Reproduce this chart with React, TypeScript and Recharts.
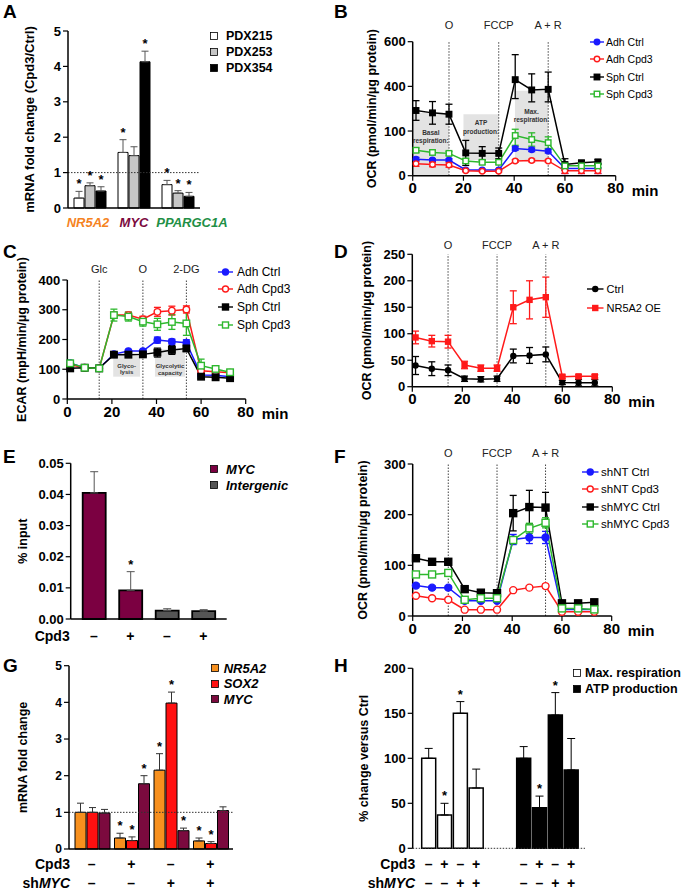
import React from "react";
import {
  LineChart,
  Line,
  BarChart,
  Bar,
  Cell,
  XAxis,
  YAxis,
  ErrorBar,
  ReferenceLine,
  ReferenceArea,
  LabelList,
  Legend,
} from "recharts";

const FONT = '"Liberation Sans", Arial, Helvetica, sans-serif';
const BLUE = "#1a1aff";
const RED = "#ff1a1a";
const GREEN = "#2db82d";
const BLACK = "#000000";

// Seahorse measurement times (min), shared by B, C, D, F
const minutes = [1.3, 7.8, 14.3, 20.9, 27.4, 33.9, 40.4, 46.9, 53.4, 60, 66.5, 73];
const timeTicks = [0, 20, 40, 60, 80];
const ocrInjections = ["O", "FCCP", "A + R"];
const ecarInjections = ["Glc", "O", "2-DG"];

// A - mRNA fold change (Cpd3/Ctrl)
const genesA = ["NR5A2", "MYC", "PPARGC1A"];
const geneColorsA = ["#f5831f", "#7b0a3e", "#1f8f46"];
const geneShiftA = [-2, 0, 14];
const pdx215 = [0.28, 1.57, 0.66];
const pdx215Err = [0.19, 0.36, 0.12];
const pdx215Sig = [true, true, true];
const pdx253 = [0.63, 1.48, 0.42];
const pdx253Err = [0.08, 0.25, 0.07];
const pdx253Sig = [true, false, true];
const pdx354 = [0.48, 4.13, 0.33];
const pdx354Err = [0.12, 0.3, 0.11];
const pdx354Sig = [true, true, true];

// B - OCR, segmented axis
const ocrTicksB = [0, 100, 400, 600];
const adhCtrlB = [37, 35, 35, 13, 13, 13, 61, 58, 55, 16, 16, 16];
const adhCtrlBErr = [4, 3, 3, 2, 2, 2, 4, 4, 4, 11, 11, 11];
const adhCpd3B = [27, 25, 24, 11, 10, 10, 33, 34, 33, 11, 11, 11];
const adhCpd3BErr = [6, 5, 5, 2, 2, 2, 3, 3, 3, 6, 6, 6];
const sphCtrlB = [238, 222, 213, 51, 50, 50, 430, 376, 380, 25, 29, 31];
const sphCtrlBErr = [66, 76, 67, 28, 15, 12, 112, 80, 84, 13, 5, 5];
const sphCpd3B = [57, 52, 50, 33, 30, 30, 90, 81, 74, 22, 22, 22];
const sphCpd3BErr = [5, 4, 4, 5, 4, 4, 22, 15, 13, 4, 4, 4];

// C - ECAR
const adhCtrlC = [120, 105, 103, 151, 161, 161, 198, 193, 189, 81, 80, 75];
const adhCtrlCErr = [8, 5, 5, 6, 5, 5, 10, 8, 10, 6, 5, 5];
const adhCpd3C = [115, 105, 103, 282, 282, 268, 293, 297, 301, 95, 92, 88];
const adhCpd3CErr = [8, 8, 5, 10, 10, 10, 15, 15, 12, 8, 6, 6];
const sphCtrlC = [103, 105, 103, 149, 149, 150, 156, 165, 170, 75, 73, 70];
const sphCtrlCErr = [5, 5, 5, 8, 6, 6, 15, 15, 10, 5, 5, 5];
const sphCpd3C = [120, 105, 103, 282, 277, 260, 251, 259, 254, 112, 101, 90];
const sphCpd3CErr = [10, 5, 5, 20, 15, 15, 20, 25, 40, 22, 10, 8];

// D - OCR, NR5A2 overexpression
const ctrlD = [40, 34, 31, 15, 14, 15, 58, 59, 61, 8, 7.5, 7.5];
const ctrlDErr = [17, 13, 10, 5, 5, 5, 13, 15, 14, 4, 6, 6];
const nr5a2D = [93, 86, 85, 41, 35, 35, 150, 164, 169, 19, 19.5, 19.5];
const nr5a2DErr = [12, 11, 12, 7, 6, 6, 31, 36, 38, 3, 3, 3];

// E - ChIP % input
const cpd3E = ["–", "+", "–", "+"];
const regionE = ["MYC", "MYC", "Intergenic", "Intergenic"];
const inputE = [0.0405, 0.0092, 0.0027, 0.0025];
const inputEErr = [0.0068, 0.006, 0.0006, 0.0005];
const inputESig = [false, true, false, false];

// F - OCR, shMYC
const shntCtrlF = [60, 56, 56, 30, 30, 30, 151, 155, 155, 13, 13, 13];
const shntCtrlFErr = [4, 3, 3, 3, 3, 3, 10, 12, 12, 3, 3, 3];
const shntCpd3F = [40, 35, 32, 12.5, 12.5, 12.5, 51, 56, 59, 8.5, 8.5, 8.5];
const shntCpd3FErr = [3, 3, 3, 2, 2, 2, 3, 3, 4, 2, 2, 2];
const shmycCtrlF = [114, 107, 107, 53, 46, 45, 203, 215, 214, 25, 25, 27];
const shmycCtrlFErr = [4, 3, 3, 3, 3, 3, 35, 33, 30, 3, 3, 3];
const shmycCpd3F = [82, 82, 85, 32, 35, 35, 150, 173, 184, 15, 15, 13];
const shmycCpd3FErr = [5, 5, 5, 3, 3, 3, 5, 10, 10, 3, 3, 3];

// G - mRNA fold change
const cpd3G = ["–", "+", "–", "+"];
const shmycG = ["–", "–", "+", "+"];
const nr5a2G = [1.0, 0.3, 2.15, 0.22];
const nr5a2GErr = [0.25, 0.13, 0.45, 0.08];
const nr5a2GSig = [false, true, true, true];
const sox2G = [1.0, 0.23, 3.98, 0.15];
const sox2GErr = [0.13, 0.1, 0.3, 0.05];
const sox2GSig = [false, true, true, true];
const mycG = [0.98, 1.78, 0.5, 1.05];
const mycGErr = [0.1, 0.22, 0.07, 0.1];
const mycGSig = [false, true, true, false];

// H - % change versus Ctrl
const cpd3H = ["–", "+", "–", "+"];
const shmycH = ["–", "–", "+", "+"];
const maxRespH = [100, 37, 150, 67];
const maxRespHErr = [11, 13, 13, 21];
const maxRespHSig = [false, true, true, false];
const atpH = [100, 45, 148, 87];
const atpHErr = [13, 13, 25, 35];
const atpHSig = [false, true, true, false];

// ---------- helpers ----------
function ocrScale(v: number) {
  const t = ocrTicksB;
  for (let i = 1; i < t.length; i++) {
    if (v <= t[i] || i === t.length - 1) {
      return i - 1 + (v - t[i - 1]) / (t[i] - t[i - 1]);
    }
  }
  return 0;
}

const ident = (v: number) => v;

function timeRows(series: any[], map: (v: number) => number) {
  return minutes.map((t, i) => {
    const row: any = { t };
    series.forEach((s) => {
      const v = s.values[i];
      const e = s.err[i];
      row[s.key] = map(v);
      row[s.key + "E"] = [map(v) - map(v - e), map(v + e) - map(v)];
    });
    return row;
  });
}

function barRows(cats: string[], series: any[]) {
  return cats.map((c, i) => {
    const row: any = { cat: c };
    series.forEach((s) => {
      row[s.key] = s.values[i];
      row[s.key + "E"] = [0, s.err[i]];
      row[s.key + "C"] = s.err[i];
      row[s.key + "S"] = s.sig[i] ? "*" : "";
    });
    return row;
  });
}

function frame(box: any, plot: any, xh: number) {
  return {
    margin: {
      top: plot.y0 - box.top,
      right: box.left + box.width - plot.x1,
      bottom: box.top + box.height - plot.y1 - xh,
      left: 0,
    },
    yWidth: plot.x0 - box.left,
  };
}

function dotFor(s: any, size: number) {
  return (p: any) => {
    const k = `d${p.index}`;
    if (p.cx == null || p.cy == null) return <g key={k} />;
    const fill = s.open ? "#fff" : s.color;
    return s.shape === "square" ? (
      <rect key={k} x={p.cx - size / 2} y={p.cy - size / 2} width={size} height={size}
        fill={fill} stroke={s.color} strokeWidth={1.4} />
    ) : (
      <circle key={k} cx={p.cx} cy={p.cy} r={size / 2} fill={fill} stroke={s.color} strokeWidth={1.4} />
    );
  };
}

function LineKey({ series, fontSize, rowH, iconW, size, gap }: any) {
  return (
    <div style={{ fontFamily: FONT, fontSize, color: "#000" }}>
      {series.map((s: any) => (
        <div key={s.key} style={{ display: "flex", alignItems: "center", height: rowH, whiteSpace: "nowrap" }}>
          <svg width={iconW} height={10} style={{ overflow: "visible" }}>
            <line x1={0} x2={iconW} y1={5} y2={5} stroke={s.color} strokeWidth={1.4} />
            {dotFor(s, size)({ cx: iconW / 2, cy: 5, index: 0 })}
          </svg>
          <span style={{ marginLeft: gap }}>{s.name}</span>
        </div>
      ))}
    </div>
  );
}

function BoxKey({ items, fontSize, rowH, box, gap, italic }: any) {
  return (
    <div style={{ fontFamily: FONT, fontSize, fontWeight: 700, fontStyle: italic ? "italic" : "normal", color: "#000" }}>
      {items.map((it: any) => (
        <div key={it.name} style={{ display: "flex", alignItems: "center", height: rowH, whiteSpace: "nowrap" }}>
          <svg width={box} height={box}>
            <rect x={0.5} y={0.5} width={box - 1} height={box - 1} fill={it.fill} stroke="#000" strokeWidth={0.8} />
          </svg>
          <span style={{ marginLeft: gap }}>{it.name}</span>
        </div>
      ))}
    </div>
  );
}

const AreaText = ({ viewBox, lines, dy, size, step }: any) => {
  if (!viewBox) return null;
  const cx = viewBox.x + viewBox.width / 2;
  return (
    <text x={cx} y={viewBox.y + dy} textAnchor="middle" fontSize={size} fontWeight={700} fill="#333">
      {lines.map((l: string, i: number) => (
        <tspan key={i} x={cx} dy={i ? step : 0}>{l}</tspan>
      ))}
    </text>
  );
};

const SignTick = ({ x, y, payload, index, rows }: any) => {
  const i = payload && payload.index != null ? payload.index : index;
  return (
    <g>
      {rows.map((r: any, k: number) => (
        <text key={k} x={x} y={y + r.dy} textAnchor="middle" fontSize={14} fontWeight={700} fill="#000">
          {r.signs[i]}
        </text>
      ))}
    </g>
  );
};

const RowLabels = ({ viewBox, rows, shift }: any) => {
  if (!viewBox) return null;
  return (
    <g>
      {rows.map((r: any, k: number) => (
        <text key={k} x={viewBox.x + shift} y={viewBox.y + r.dy} textAnchor="end" fontSize={14} fontWeight={700} fill="#000">
          {r.prefix}
          {r.italic ? <tspan fontStyle="italic">{r.italic}</tspan> : null}
        </text>
      ))}
    </g>
  );
};

const tickStyle = (size: number) => ({ fontSize: size, fontWeight: 700, fill: "#000" });
const axisLine = { stroke: "#000", strokeWidth: 1.5 };
const tickLine = { stroke: "#000", strokeWidth: 1.2 };

const yLabel = (value: string, dx: number, size = 12.5) => ({
  value,
  angle: -90,
  position: "center",
  dx,
  fontSize: size,
  fontWeight: 700,
  fill: "#000",
});

// ---------- time course panels ----------
function TimePanel({ box, plot, series, map, yDomain, yTicks, yFormat, yText, labelDx, injections, injOffset, areas, areaSize, areaStep, legend, size }: any) {
  const rows = timeRows(series, map);
  const { margin, yWidth } = frame(box, plot, 25);
  const injTimes = [minutes[2], minutes[5], minutes[8]];
  return (
    <div style={{ position: "absolute", left: box.left, top: box.top }}>
      <LineChart width={box.width} height={box.height} data={rows} margin={margin}>
        {areas.map((a: any) => (
          <ReferenceArea key={a.lines.join()} x1={a.x1} x2={a.x2} y1={map(a.y1)} y2={map(a.y2)}
            fill="#e3e3e3" fillOpacity={1} stroke="none"
            label={<AreaText lines={a.lines} dy={a.dy} size={areaSize} step={areaStep} />} />
        ))}
        <XAxis type="number" dataKey="t" domain={[0, 80]} ticks={timeTicks} height={25}
          tick={tickStyle(15)} axisLine={axisLine} tickLine={tickLine} tickSize={5}
          label={{ value: "min", position: "right", offset: 16, dy: 2, fontSize: 15, fontWeight: 700, fill: "#000" }} />
        <YAxis type="number" domain={yDomain} ticks={yTicks} width={yWidth} tickFormatter={yFormat}
          tick={tickStyle(13)} axisLine={axisLine} tickLine={tickLine} tickSize={5}
          label={yLabel(yText, labelDx)} />
        {injTimes.map((t, i) => (
          <ReferenceLine key={i} x={t} stroke="#444" strokeDasharray="1.5 1.5" strokeWidth={1}
            label={{ value: injections[i], position: "top", offset: injOffset, fontSize: 11, fill: "#222" }} />
        ))}
        {series.map((s: any) => (
          <Line key={s.key} dataKey={s.key} name={s.name} stroke={s.color} strokeWidth={1.5}
            dot={dotFor(s, size)} activeDot={false} isAnimationActive={false}>
            <ErrorBar dataKey={s.key + "E"} stroke={s.color} width={3.5} strokeWidth={1.3} direction="y" />
          </Line>
        ))}
        <Legend layout="vertical" align="center" verticalAlign="middle"
          wrapperStyle={{ left: legend.left, top: legend.top, width: "auto" }}
          content={() => (
            <LineKey series={series} fontSize={legend.font} rowH={legend.rowH} iconW={legend.iconW}
              size={Math.min(size, 6)} gap={legend.gap} />
          )} />
      </LineChart>
    </div>
  );
}

function starBars(series: any[], stroke: any, errColor: string) {
  return series.flatMap((s: any) => [
    <Bar key={s.key} dataKey={s.key} stackId={s.key} fill={s.fill} stroke={BLACK} strokeWidth={stroke}
      isAnimationActive={false}>
      <ErrorBar dataKey={s.key + "E"} stroke={errColor} width={3.5} strokeWidth={1} direction="y" />
    </Bar>,
    <Bar key={s.key + "C"} dataKey={s.key + "C"} stackId={s.key} fill="none" stroke="none" isAnimationActive={false}>
      <LabelList dataKey={s.key + "S"} position="top" offset={3} fontSize={13} fontWeight={700} fill="#000" />
    </Bar>,
  ]);
}

function PanelA() {
  const box = { left: 0, top: 0, width: 330, height: 235 };
  const plot = { x0: 68, y0: 31, x1: 200, y1: 208 };
  const { margin, yWidth } = frame(box, plot, 22);
  const series = [
    { key: "p215", name: "PDX215", fill: "#ffffff", values: pdx215, err: pdx215Err, sig: pdx215Sig },
    { key: "p253", name: "PDX253", fill: "#c6c6c6", values: pdx253, err: pdx253Err, sig: pdx253Sig },
    { key: "p354", name: "PDX354", fill: "#000000", values: pdx354, err: pdx354Err, sig: pdx354Sig },
  ];
  const rows = barRows(genesA, series);
  const GeneTick = ({ x, y, payload }: any) => (
    <text x={x + geneShiftA[payload.index]} y={y + 19} textAnchor="middle" fontSize={13} fontWeight={700}
      fontStyle="italic" fill={geneColorsA[payload.index]}>{payload.value}</text>
  );
  return (
    <div style={{ position: "absolute", left: box.left, top: box.top }}>
      <BarChart width={box.width} height={box.height} data={rows} margin={margin} barCategoryGap={6} barGap={1}>
        <ReferenceLine y={1} stroke="#333" strokeDasharray="1.5 1.5" strokeWidth={1} />
        <XAxis dataKey="cat" height={22} interval={0} tick={<GeneTick />} tickLine={false}
          tickSize={0} tickMargin={0} axisLine={axisLine} />
        <YAxis domain={[0, 5]} ticks={[0, 1, 2, 3, 4, 5]} width={yWidth} tick={tickStyle(13)}
          axisLine={axisLine} tickLine={tickLine} tickSize={5} label={yLabel("mRNA fold change (Cpd3/Ctrl)", -5, 13)} />
        {starBars(series, 1, "#555")}
        <Legend layout="vertical" align="center" verticalAlign="middle"
          wrapperStyle={{ left: 210, top: 28, width: "auto" }}
          content={() => <BoxKey items={series} fontSize={12.5} rowH={16} box={8} gap={8} />} />
      </BarChart>
    </div>
  );
}

function PanelE() {
  const box = { left: 0, top: 435, width: 330, height: 215 };
  const plot = { x0: 70.7, y0: 463.3, x1: 226.7, y1: 619 };
  const { margin, yWidth } = frame(box, plot, 25);
  const colors: any = { MYC: "#7b0041", Intergenic: "#555555" };
  const series = [{ key: "v", values: inputE, err: inputEErr, sig: inputESig }];
  const rows = barRows(cpd3E.map((c, i) => `${regionE[i]}${i}`), series);
  const signRows = [{ signs: cpd3E, dy: 22 }];
  return (
    <div style={{ position: "absolute", left: box.left, top: box.top }}>
      <BarChart width={box.width} height={box.height} data={rows} margin={margin} barSize={23}>
        <XAxis dataKey="cat" height={25} interval={0} padding={{ left: 5, right: 5 }}
          tick={<SignTick rows={signRows} />} tickLine={false} tickSize={0} tickMargin={0} axisLine={axisLine}
          label={<RowLabels rows={[{ prefix: "Cpd3", dy: 22 }]} shift={-1} />} />
        <YAxis domain={[0, 0.05]} ticks={[0, 0.01, 0.02, 0.03, 0.04, 0.05]} width={yWidth}
          tickFormatter={(v: number) => v.toFixed(2)} tick={tickStyle(13)} axisLine={axisLine}
          tickLine={tickLine} tickSize={5} label={yLabel("% input", -13)} />
        <Bar dataKey="v" stackId="v" stroke={BLACK} strokeWidth={1.8} isAnimationActive={false}>
          {regionE.map((r, i) => <Cell key={i} fill={colors[r]} />)}
          <ErrorBar dataKey="vE" stroke="#555" width={4} strokeWidth={1} direction="y" />
        </Bar>
        <Bar dataKey="vC" stackId="v" fill="none" stroke="none" isAnimationActive={false}>
          <LabelList dataKey="vS" position="top" offset={3} fontSize={13} fontWeight={700} fill="#000" />
        </Bar>
        <Legend layout="vertical" align="center" verticalAlign="middle"
          wrapperStyle={{ left: 210, top: 26.5, width: "auto" }}
          content={() => (
            <BoxKey items={[{ name: "MYC", fill: colors.MYC }, { name: "Intergenic", fill: colors.Intergenic }]}
              fontSize={13} rowH={15.7} box={8} gap={8} italic />
          )} />
      </BarChart>
    </div>
  );
}

function PanelG() {
  const box = { left: 0, top: 650, width: 330, height: 241 };
  const plot = { x0: 69, y0: 665.7, x1: 233, y1: 849 };
  const { margin, yWidth } = frame(box, plot, 40);
  const series = [
    { key: "nr5a2", name: "NR5A2", fill: "#f7901e", values: nr5a2G, err: nr5a2GErr, sig: nr5a2GSig },
    { key: "sox2", name: "SOX2", fill: "#ff1010", values: sox2G, err: sox2GErr, sig: sox2GSig },
    { key: "myc", name: "MYC", fill: "#7b0a3e", values: mycG, err: mycGErr, sig: mycGSig },
  ];
  const rows = barRows(cpd3G.map((c, i) => `g${i}`), series);
  const signRows = [{ signs: cpd3G, dy: 20 }, { signs: shmycG, dy: 39 }];
  const labelRows = [{ prefix: "Cpd3", dy: 20 }, { prefix: "sh", italic: "MYC", dy: 39 }];
  return (
    <div style={{ position: "absolute", left: box.left, top: box.top }}>
      <BarChart width={box.width} height={box.height} data={rows} margin={margin} barCategoryGap={3} barGap={1}>
        <ReferenceLine y={1} stroke="#333" strokeDasharray="1.5 1.5" strokeWidth={1} />
        <XAxis dataKey="cat" height={40} interval={0} padding={{ left: 3, right: 3 }}
          tick={<SignTick rows={signRows} />} tickLine={false} tickSize={0} tickMargin={0} axisLine={axisLine}
          label={<RowLabels rows={labelRows} shift={1} />} />
        <YAxis domain={[0, 5]} ticks={[0, 1, 2, 3, 4, 5]} width={yWidth} tick={tickStyle(12)}
          axisLine={axisLine} tickLine={tickLine} tickSize={5} label={yLabel("mRNA fold change", -11.5)} />
        {starBars(series, 1, "#333")}
        <Legend layout="vertical" align="center" verticalAlign="middle"
          wrapperStyle={{ left: 210.7, top: 10.3, width: "auto" }}
          content={() => <BoxKey items={series} fontSize={13} rowH={15.5} box={8} gap={5} italic />} />
      </BarChart>
    </div>
  );
}

function PanelH() {
  const box = { left: 340, top: 650, width: 345, height: 241 };
  const plot = { x0: 412.7, y0: 668.3, x1: 585, y1: 848.3 };
  const { margin, yWidth } = frame(box, plot, 40);
  const groups = [
    { name: "Max. respiration", fill: "#ffffff", values: maxRespH, err: maxRespHErr, sig: maxRespHSig },
    { name: "ATP production", fill: "#000000", values: atpH, err: atpHErr, sig: atpHSig },
  ];
  const rows: any[] = [];
  groups.forEach((g, gi) => {
    if (gi > 0) {
      rows.push({ cat: "gap1", cpd3: "", shmyc: "" });
      rows.push({ cat: "gap2", cpd3: "", shmyc: "" });
    }
    g.values.forEach((v, i) => {
      rows.push({
        cat: `${g.name}${i}`, tone: g.fill, v, vE: [0, g.err[i]], vC: g.err[i],
        vS: g.sig[i] ? "*" : "", cpd3: cpd3H[i], shmyc: shmycH[i],
      });
    });
  });
  const signRows = [{ signs: rows.map((r) => r.cpd3), dy: 21 }, { signs: rows.map((r) => r.shmyc), dy: 40 }];
  const labelRows = [{ prefix: "Cpd3", dy: 21 }, { prefix: "sh", italic: "MYC", dy: 40 }];
  return (
    <div style={{ position: "absolute", left: box.left, top: box.top }}>
      <BarChart width={box.width} height={box.height} data={rows} margin={margin} barSize={14}>
        <XAxis dataKey="cat" height={40} interval={0} padding={{ left: 8, right: 6 }}
          tick={<SignTick rows={signRows} />} tickLine={false} tickSize={0} tickMargin={0} axisLine={false}
          label={<RowLabels rows={labelRows} shift={2.5} />} />
        <YAxis domain={[0, 200]} ticks={[0, 50, 100, 150, 200]} width={yWidth} tick={tickStyle(13)}
          axisLine={axisLine} tickLine={tickLine} tickSize={5} label={yLabel("% change versus Ctrl", -13)} />
        <ReferenceLine y={0} stroke="#333" strokeDasharray="1.5 1.5" strokeWidth={1} />
        <Bar dataKey="v" stackId="v" stroke={BLACK} strokeWidth={1.5} isAnimationActive={false}>
          {rows.map((r, i) => <Cell key={i} fill={r.tone || "none"} />)}
          <ErrorBar dataKey="vE" stroke="#000" width={4} strokeWidth={1} direction="y" />
        </Bar>
        <Bar dataKey="vC" stackId="v" fill="none" stroke="none" isAnimationActive={false}>
          <LabelList dataKey="vS" position="top" offset={3} fontSize={13} fontWeight={700} fill="#000" />
        </Bar>
        <Legend layout="vertical" align="center" verticalAlign="middle"
          wrapperStyle={{ left: 233, top: 15, width: "auto" }}
          content={() => <BoxKey items={groups} fontSize={12.5} rowH={16} box={8} gap={4} />} />
      </BarChart>
    </div>
  );
}

const Letter = ({ ch, x, y }: any) => (
  <div style={{ position: "absolute", left: x, top: y, fontSize: 19, fontWeight: 700, lineHeight: 1 }}>{ch}</div>
);

export default function App() {
  const seriesB = [
    { key: "adhCtrl", name: "Adh Ctrl", color: BLUE, shape: "circle", open: false, values: adhCtrlB, err: adhCtrlBErr },
    { key: "adhCpd3", name: "Adh Cpd3", color: RED, shape: "circle", open: true, values: adhCpd3B, err: adhCpd3BErr },
    { key: "sphCtrl", name: "Sph Ctrl", color: BLACK, shape: "square", open: false, values: sphCtrlB, err: sphCtrlBErr },
    { key: "sphCpd3", name: "Sph Cpd3", color: GREEN, shape: "square", open: true, values: sphCpd3B, err: sphCpd3BErr },
  ];
  const seriesC = [
    { key: "adhCtrl", name: "Adh Ctrl", color: BLUE, shape: "circle", open: false, values: adhCtrlC, err: adhCtrlCErr },
    { key: "adhCpd3", name: "Adh Cpd3", color: RED, shape: "circle", open: true, values: adhCpd3C, err: adhCpd3CErr },
    { key: "sphCtrl", name: "Sph Ctrl", color: BLACK, shape: "square", open: false, values: sphCtrlC, err: sphCtrlCErr },
    { key: "sphCpd3", name: "Sph Cpd3", color: GREEN, shape: "square", open: true, values: sphCpd3C, err: sphCpd3CErr },
  ];
  const seriesD = [
    { key: "ctrl", name: "Ctrl", color: BLACK, shape: "circle", open: false, values: ctrlD, err: ctrlDErr },
    { key: "nr5a2", name: "NR5A2 OE", color: RED, shape: "square", open: false, values: nr5a2D, err: nr5a2DErr },
  ];
  const seriesF = [
    { key: "shntCtrl", name: "shNT Ctrl", color: BLUE, shape: "circle", open: false, values: shntCtrlF, err: shntCtrlFErr },
    { key: "shntCpd3", name: "shNT Cpd3", color: RED, shape: "circle", open: true, values: shntCpd3F, err: shntCpd3FErr },
    { key: "shmycCtrl", name: "shMYC Ctrl", color: BLACK, shape: "square", open: false, values: shmycCtrlF, err: shmycCtrlFErr },
    { key: "shmycCpd3", name: "shMYC Cpd3", color: GREEN, shape: "square", open: true, values: shmycCpd3F, err: shmycCpd3FErr },
  ];
  const ocrLabel = "OCR (pmol/min/µg protein)";

  return (
    <div style={{ position: "absolute", left: 0, top: 0, width: 685, height: 891, background: "#fff",
      overflow: "hidden", fontFamily: FONT }}>
      <PanelA />
      <TimePanel
        box={{ left: 340, top: 0, width: 345, height: 215 }}
        plot={{ x0: 412.7, y0: 41.7, x1: 615.7, y1: 175.7 }}
        series={seriesB} map={ocrScale} yDomain={[0, 3]} yTicks={[0, 1, 2, 3]}
        yFormat={(v: number) => String(ocrTicksB[v])} yText={ocrLabel} labelDx={-5}
        injections={ocrInjections} injOffset={13}
        areas={[
          { x1: 0, x2: 14.3, y1: 0, y2: 222, lines: ["Basal", "respiration:"], dy: 22 },
          { x1: 20, x2: 33.9, y1: 35, y2: 213, lines: ["ATP", "production:"], dy: 11 },
          { x1: 40.3, x2: 53.4, y1: 35, y2: 370, lines: ["Max.", "respiration:"], dy: 23 },
        ]}
        areaSize={6.5} areaStep={8.5} size={5.5}
        legend={{ left: 250, top: 33, rowH: 17.5, font: 10.5, iconW: 14, gap: 2 }}
      />
      <TimePanel
        box={{ left: 0, top: 225, width: 330, height: 205 }}
        plot={{ x0: 67.3, y0: 280, x1: 245.7, y1: 399 }}
        series={seriesC} map={ident} yDomain={[0, 400]} yTicks={[0, 100, 200, 300, 400]}
        yFormat={(v: number) => String(v)} yText="ECAR (mpH/min/µg protein)" labelDx={-12.5}
        injections={ecarInjections} injOffset={7}
        areas={[
          { x1: 20.6, x2: 32.6, y1: 75, y2: 155, lines: ["Glyco-", "lysis"], dy: 15 },
          { x1: 39.3, x2: 52.8, y1: 75, y2: 167, lines: ["Glycolytic", "capacity"], dy: 19 },
        ]}
        areaSize={6} areaStep={6.5} size={6.5}
        legend={{ left: 218, top: 37.8, rowH: 17.8, font: 12, iconW: 15, gap: 4 }}
      />
      <TimePanel
        box={{ left: 340, top: 225, width: 345, height: 205 }}
        plot={{ x0: 412.3, y0: 254.3, x1: 612.3, y1: 386.7 }}
        series={seriesD} map={ident} yDomain={[0, 250]} yTicks={[0, 50, 100, 150, 200, 250]}
        yFormat={(v: number) => String(v)} yText={ocrLabel} labelDx={-10}
        injections={ocrInjections} injOffset={5}
        areas={[]} areaSize={6} areaStep={6} size={5}
        legend={{ left: 247, top: 54.5, rowH: 19, font: 11, iconW: 16.5, gap: 3 }}
      />
      <PanelE />
      <TimePanel
        box={{ left: 340, top: 435, width: 345, height: 215 }}
        plot={{ x0: 412.7, y0: 464, x1: 611.7, y1: 616 }}
        series={seriesF} map={ident} yDomain={[0, 300]} yTicks={[0, 100, 200, 300]}
        yFormat={(v: number) => String(v)} yText={ocrLabel} labelDx={-13.5}
        injections={ocrInjections} injOffset={7}
        areas={[]} areaSize={6} areaStep={6} size={7}
        legend={{ left: 242, top: 28, rowH: 17.5, font: 11.5, iconW: 16.5, gap: 2.5 }}
      />
      <PanelG />
      <PanelH />
      <Letter ch="A" x={3} y={2} />
      <Letter ch="B" x={334} y={2} />
      <Letter ch="C" x={3} y={242} />
      <Letter ch="D" x={334} y={242} />
      <Letter ch="E" x={3} y={447} />
      <Letter ch="F" x={334} y={447} />
      <Letter ch="G" x={3} y={656} />
      <Letter ch="H" x={334} y={656} />
    </div>
  );
}
